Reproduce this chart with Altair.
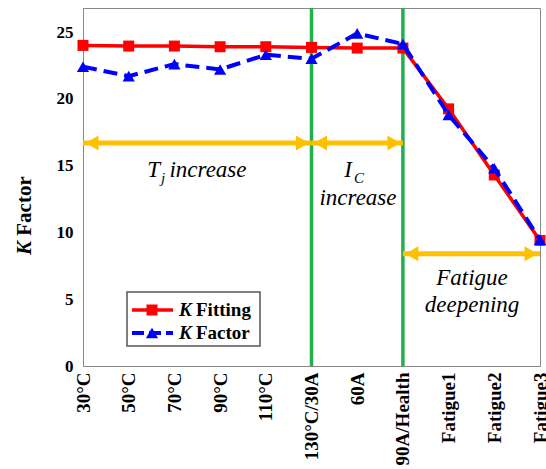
import altair as alt
import pandas as pd

# ---- data ----
categories = ["30°C", "50°C", "70°C", "90°C", "110°C", "130°C/30A", "60A",
              "90A/Health", "Fatigue1", "Fatigue2", "Fatigue3"]
k_fitting = [24.0, 23.95, 23.95, 23.9, 23.9, 23.85, 23.8, 23.8, 19.25, 14.3, 9.4]
k_factor = [22.4, 21.7, 22.6, 22.2, 23.3, 23.0, 24.9, 24.1, 18.8, 14.8, 9.45]
y_ticks = [0, 5, 10, 15, 20, 25]
boundaries = ["130°C/30A", "90A/Health"]
arrow_start = ["30°C", "130°C/30A", "90A/Health"]
arrow_end = ["130°C/30A", "90A/Health", "Fatigue3"]
arrow_y = [16.7, 16.7, 8.4]

SERIF = "Liberation Serif"
RED = "#ff0000"
BLUE = "#0000ff"
GREEN = "#21b04b"
GOLD = "#ffc000"

df = pd.DataFrame({"cat": categories, "fit": k_fitting, "fac": k_factor})
df_b = pd.DataFrame({"cat": boundaries})
df_a = pd.DataFrame({"s": arrow_start, "e": arrow_end, "y": arrow_y})
one = pd.DataFrame({"a": [0]})

xscale = alt.Scale(type="point", padding=0, domain=categories)
yscale = alt.Scale(domain=[0, 26.8], nice=False, zero=True)

xaxis = alt.Axis(title=None, labelAngle=-90, labelFont=SERIF, labelFontSize=19,
                 labelFontWeight="bold", labelColor="#000", labelPadding=6,
                 ticks=False, domainColor="#888", labelOverlap=False)
yaxis = alt.Axis(title=None, values=y_ticks, labelFont=SERIF, labelFontSize=17,
                 labelFontWeight="bold", labelColor="#000", labelPadding=10,
                 ticks=False, grid=False, domainColor="#888")

X = alt.X("cat:O", sort=categories, scale=xscale, axis=xaxis)

base = alt.Chart(df)

green = alt.Chart(df_b).mark_rule(color=GREEN, strokeWidth=3.5).encode(
    x=alt.X("cat:O", sort=categories, scale=xscale, axis=xaxis))

fit_line = base.mark_line(color=RED, strokeWidth=3.5).encode(
    x=X, y=alt.Y("fit:Q", scale=yscale, axis=yaxis))
fit_pts = base.mark_point(shape="square", filled=True, size=121, color=RED, opacity=1).encode(
    x=X, y=alt.Y("fit:Q", scale=yscale, axis=yaxis))
fac_line = base.mark_line(color=BLUE, strokeWidth=4, strokeDash=[14, 7]).encode(
    x=X, y=alt.Y("fac:Q", scale=yscale, axis=yaxis))
fac_pts = base.mark_point(shape="triangle-up", filled=True, size=150, color=BLUE, opacity=1).encode(
    x=X, y=alt.Y("fac:Q", scale=yscale, axis=yaxis))

arrows = alt.Chart(df_a).mark_rule(color=GOLD, strokeWidth=5).encode(
    x=alt.X("s:O", sort=categories, scale=xscale, axis=xaxis),
    x2="e:O",
    y=alt.Y("y:Q", scale=yscale, axis=yaxis))
heads_l = alt.Chart(df_a).mark_point(shape="triangle-left", filled=True, size=225,
                                     color=GOLD, opacity=1, xOffset=9).encode(
    x=alt.X("s:O", sort=categories, scale=xscale, axis=xaxis),
    y=alt.Y("y:Q", scale=yscale, axis=yaxis))
heads_r = alt.Chart(df_a).mark_point(shape="triangle-right", filled=True, size=225,
                                     color=GOLD, opacity=1, xOffset=-9).encode(
    x=alt.X("e:O", sort=categories, scale=xscale, axis=xaxis),
    y=alt.Y("y:Q", scale=yscale, axis=yaxis))

def txt(s, x, y, size=22, style="italic", weight="normal", align="center", angle=0):
    return alt.Chart(one).mark_text(text=s, font=SERIF, fontSize=size, fontStyle=style,
                                    fontWeight=weight, align=align, baseline="middle",
                                    angle=angle, color="#000").encode(
        x=alt.value(x), y=alt.value(y))

annos = [
    txt("T", 77, 162, align="right", size=23),
    txt("j", 78, 170, size=15, align="left"),
    txt("increase", 125, 162, size=23),
    txt("I", 269, 162, align="right", size=23),
    txt("C", 271, 170, size=15, align="left"),
    txt("increase", 275, 190, size=23),
    txt("Fatigue", 389, 270, size=23),
    txt("deepening", 389, 297, size=23),
    # y-axis title
    txt("Factor", -58, 198, size=21, style="normal", weight="bold", angle=270),
    txt("K", -58, 240, size=21, style="italic", weight="bold", angle=270),
]

# legend (decoration)
leg_box = alt.Chart(one).mark_rect(fill="white", stroke="#555", strokeWidth=1.5).encode(
    x=alt.value(44), x2=alt.value(177), y=alt.value(284), y2=alt.value(338))
leg_red = alt.Chart(one).mark_rule(color=RED, strokeWidth=3.5).encode(
    x=alt.value(49), x2=alt.value(90), y=alt.value(302))
leg_red_pt = alt.Chart(one).mark_point(shape="square", filled=True, size=121, color=RED, opacity=1).encode(
    x=alt.value(69), y=alt.value(302))
leg_blue = alt.Chart(one).mark_rule(color=BLUE, strokeWidth=4, strokeDash=[12, 5]).encode(
    x=alt.value(49), x2=alt.value(90), y=alt.value(325))
leg_blue_pt = alt.Chart(one).mark_point(shape="triangle-up", filled=True, size=150, color=BLUE, opacity=1).encode(
    x=alt.value(69), y=alt.value(325))
leg_txt = [
    txt("K", 96, 302, size=19, style="italic", weight="bold", align="left"),
    txt("Fitting", 113, 302, size=19, style="normal", weight="bold", align="left"),
    txt("K", 96, 325, size=19, style="italic", weight="bold", align="left"),
    txt("Factor", 113, 325, size=19, style="normal", weight="bold", align="left"),
]

chart = alt.layer(
    green, arrows, heads_l, heads_r, fit_line, fit_pts, fac_line, fac_pts,
    *annos, leg_box, leg_red, leg_red_pt, leg_blue, leg_blue_pt, *leg_txt
).properties(
    width=457, height=358,
    autosize=alt.AutoSizeParams(type="none"),
    padding={"left": 83, "top": 8, "right": 6, "bottom": 103},
).configure_view(
    stroke="#888", strokeWidth=1
)

chart.save("out.html", embed_options={"renderer": "svg", "actions": False})
